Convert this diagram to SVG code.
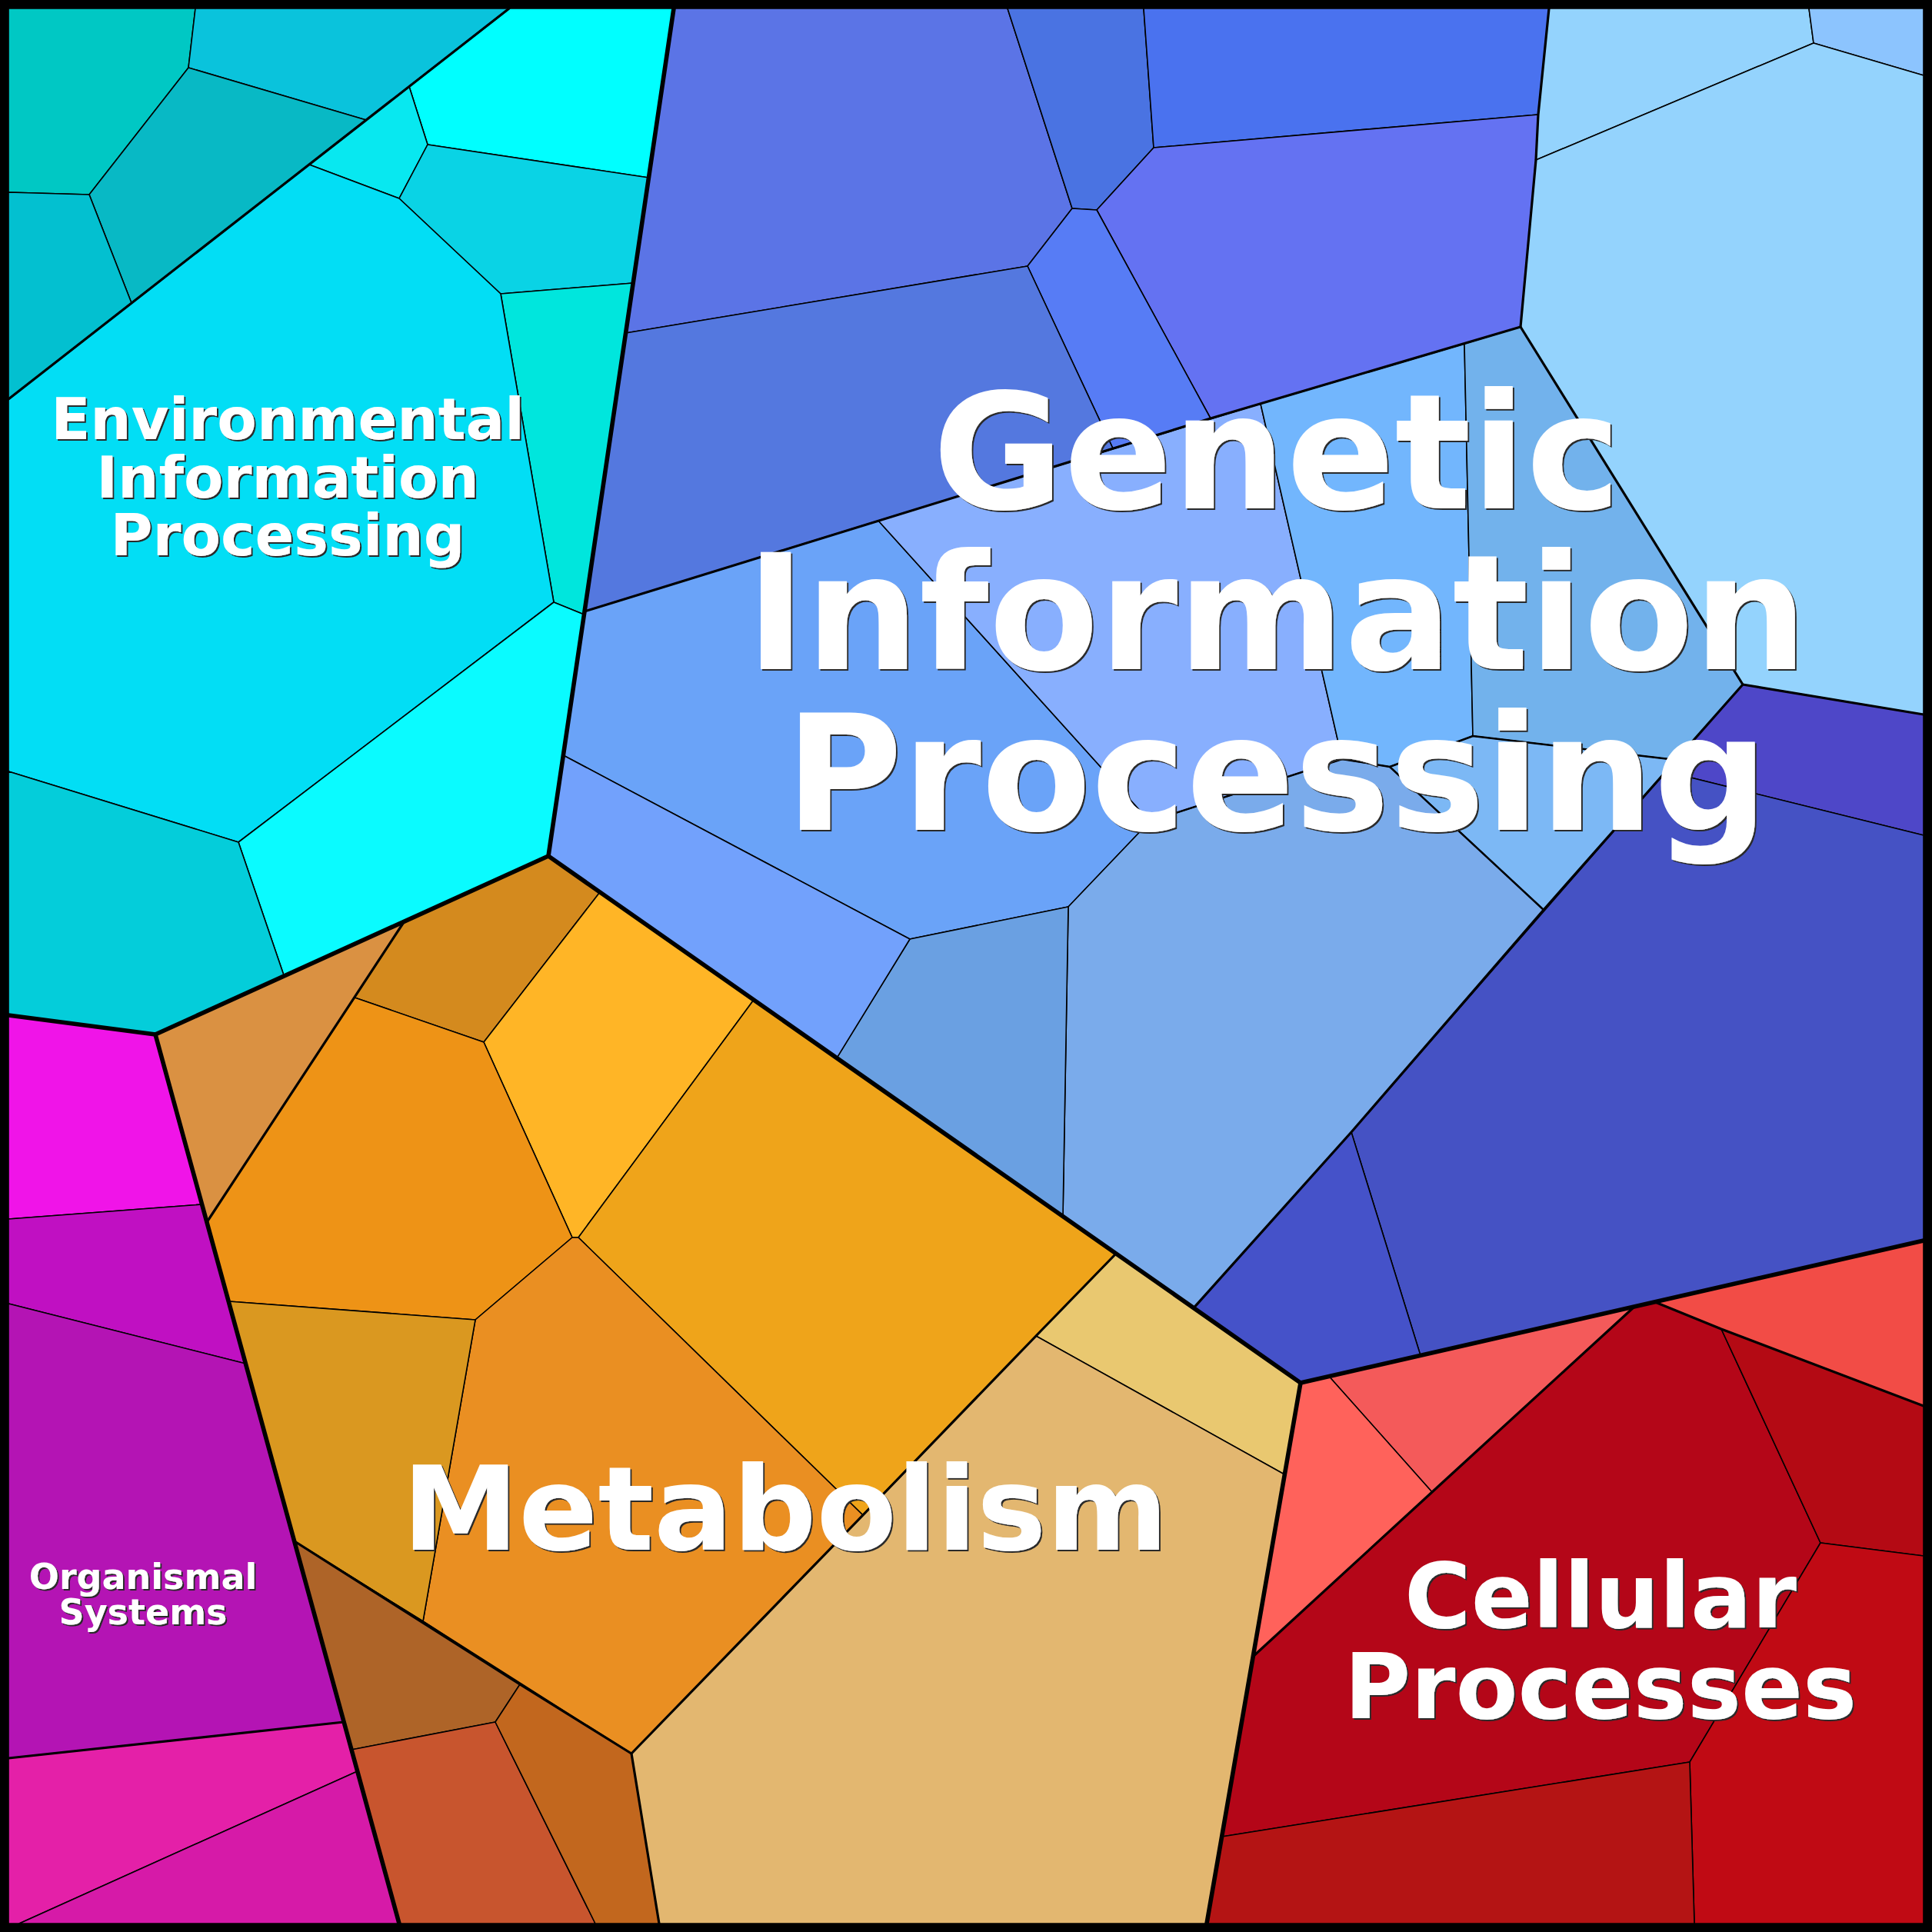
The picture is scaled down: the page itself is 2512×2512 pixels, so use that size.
<svg xmlns="http://www.w3.org/2000/svg" width="2512" height="2512" viewBox="0 0 2512 2512">
<defs>
<filter id="sh" x="-5%" y="-5%" width="110%" height="120%">
<feOffset in="SourceAlpha" dx="2" dy="2" result="o"/>
<feFlood flood-color="#2a2a2a"/>
<feComposite in2="o" operator="in" result="s"/>
<feMerge><feMergeNode in="s"/><feMergeNode in="SourceGraphic"/></feMerge>
</filter>
</defs>
<style>
.c{stroke:#000;stroke-width:1.6;stroke-linejoin:round}
.l3{fill:none;stroke:#000;stroke-width:2.4;stroke-linejoin:round;stroke-linecap:round}
.l2{fill:none;stroke:#000;stroke-width:3.2;stroke-linejoin:round;stroke-linecap:round}
.l1{fill:none;stroke:#000;stroke-width:5.6;stroke-linejoin:round;stroke-linecap:round}
.t{font-family:"DejaVu Sans","Liberation Sans",sans-serif;font-weight:bold;text-anchor:middle;fill:#fff}
</style>
<rect x="0" y="0" width="2512" height="2512" fill="#000"/>
<g id="environmental">
<polygon class="c" fill="#00C8C4" points="11,11 254,11 245,88 116,253 11,250"/>
<polygon class="c" fill="#0AC3DC" points="254,11 662,11 476,156 245,88"/>
<polygon class="c" fill="#08B9C5" points="245,88 476,156 171,394 116,253"/>
<polygon class="c" fill="#03C0D0" points="11,250 116,253 171,394 11,519"/>
<polygon class="c" fill="#00FFFF" points="662,11 876,11 843.5,231 556,188 532,112.4"/>
<polygon class="c" fill="#08E8F0" points="532,112.4 556,188 519,258 402,214"/>
<polygon class="c" fill="#0AD3E5" points="556,188 843.5,231 823.2,368 651,382 519,258"/>
<polygon class="c" fill="#00E6DD" points="651,382 823.2,368 759.4,799 720,783"/>
<polygon class="c" fill="#02DEF5" points="11,519 402,214 519,258 651,382 720,783 310,1095 11,1003"/>
<polygon class="c" fill="#0AFBFF" points="720,783 759.4,799 713,1113 369,1268 310,1095"/>
<polygon class="c" fill="#04CDDA" points="11,1003 310,1095 369,1268 202,1345 11,1320"/>
</g>
<g id="genetic">
<polygon class="c" fill="#5B74E6" points="876,11 1310,11 1394,271 1336,346 813.6,433"/>
<polygon class="c" fill="#4A73E2" points="1310,11 1487,11 1500,192 1426,273 1394,271"/>
<polygon class="c" fill="#4A72EF" points="1487,11 2014,11 2000,149 1500,192"/>
<polygon class="c" fill="#6472F2" points="1500,192 2000,149 1997,208 1977,425 1574,544 1426,273"/>
<polygon class="c" fill="#577CF5" points="1394,271 1426,273 1574,544 1447,583 1336,346"/>
<polygon class="c" fill="#5478DF" points="813.6,433 1336,346 1447,583 760,795"/>
<polygon class="c" fill="#94D3FD" points="2014,11 2352,11 2358,56 1997,208 2000,149"/>
<polygon class="c" fill="#8CC4FE" points="2352,11 2501,11 2501,98 2358,56"/>
<polygon class="c" fill="#94D3FD" points="1997,208 2358,56 2501,98 2501,929 2266,890 1977,425"/>
<polygon class="c" fill="#6AA3F8" points="760,795 1142,677 1495,1068 1389,1179 1183,1221 732.4,982"/>
<polygon class="c" fill="#88AFFE" points="1142,677 1639,525 1745,987 1495,1068"/>
<polygon class="c" fill="#72B6FD" points="1639,525 1904,447 1915,957 1807,997 1745,987"/>
<polygon class="c" fill="#72B2EC" points="1904,447 1977,425 2266,890 2179,988 1915,957"/>
<polygon class="c" fill="#7CB8F5" points="1915,957 2179,988 2007,1183 1807,997"/>
<polygon class="c" fill="#7AABEB" points="1495,1068 1745,987 1807,997 2007,1183 1757,1472 1552,1700.6 1382,1581.6 1389,1179"/>
<polygon class="c" fill="#6AA0E2" points="1183,1221 1389,1179 1382,1581.6 1088,1375.7"/>
<polygon class="c" fill="#72A1FC" points="732.4,982 1183,1221 1088,1375.7 713,1113"/>
<polygon class="c" fill="#4E47C8" points="2266,890 2501,929 2501,1086 2166,1003"/>
<polygon class="c" fill="#4552C4" points="2166,1003 2501,1086 2501,1613 1847,1762.4 1757,1472"/>
<polygon class="c" fill="#4552C9" points="1757,1472 1847,1762.4 1691,1798 1552,1700.6"/>
</g>
<g id="metabolism">
<polygon class="c" fill="#DA9142" points="202,1345 369,1268 525,1199 461,1297 269,1589"/>
<polygon class="c" fill="#D48A1E" points="525,1199 713,1113 780,1160 629,1355 461,1297"/>
<polygon class="c" fill="#FFB526" points="629,1355 780,1160 980,1300 752,1609 744,1609"/>
<polygon class="c" fill="#EE9316" points="461,1297 629,1355 744,1609 618,1716 297,1692 269,1589"/>
<polygon class="c" fill="#EFA41A" points="752,1609 980,1300 1451,1630 1347,1737 1122,1970"/>
<polygon class="c" fill="#EA8F22" points="744,1609 752,1609 1122,1970 821,2280 550,2108 618,1716"/>
<polygon class="c" fill="#DA9820" points="297,1692 618,1716 550,2108 383,2004"/>
<polygon class="c" fill="#AE6428" points="383,2004 550,2108 676,2190 644,2239 457,2275"/>
<polygon class="c" fill="#C8552E" points="457,2275 644,2239 774,2501 519,2501"/>
<polygon class="c" fill="#C2671E" points="676,2190 821,2280 857,2501 774,2501 644,2239"/>
<polygon class="c" fill="#E9C870" points="1451,1630 1691,1798 1670,1917 1347,1737"/>
<polygon class="c" fill="#E3B770" points="1347,1737 1670,1917 1569,2501 857,2501 821,2280"/>
</g>
<g id="organismal">
<polygon class="c" fill="#F014E8" points="11,1320 202,1345 262.6,1566 11,1585"/>
<polygon class="c" fill="#C010C2" points="11,1585 262.6,1566 319.4,1773 11,1695"/>
<polygon class="c" fill="#B414B4" points="11,1695 319.4,1773 447,2239 11,2286"/>
<polygon class="c" fill="#E420A8" points="11,2286 447,2239 464.7,2303 25,2501 11,2501"/>
<polygon class="c" fill="#D61AA8" points="464.7,2303 519,2501 25,2501"/>
</g>
<g id="cellular">
<polygon class="c" fill="#F24C46" points="2152,1693 2501,1613 2501,1828 2238,1728"/>
<polygon class="c" fill="#F45A5A" points="1728,1789.5 2125,1699 1862,1940"/>
<polygon class="c" fill="#FF625B" points="1691,1798 1728,1789.5 1862,1940 1629,2154 1670,1917"/>
<polygon class="c" fill="#B40618" points="1629,2154 1862,1940 2125,1699 2152,1693 2238,1728 2367,2006 2197,2291 1589,2388"/>
<polygon class="c" fill="#B40A14" points="2238,1728 2501,1828 2501,2023 2367,2006"/>
<polygon class="c" fill="#C00A14" points="2367,2006 2501,2023 2501,2501 2203,2501 2197,2291"/>
<polygon class="c" fill="#B41414" points="1589,2388 2197,2291 2203,2501 1569,2501"/>
</g>
<g id="boundaries">
<polyline class="l3" points="1495,1068 1745,987 1807,997 1915,957 2179,988"/>
<polyline class="l3" points="1807,997 2007,1183"/>
<polyline class="l2" points="11,519 662,11"/>
<polyline class="l2" points="760,795 1574,544 1977,425"/>
<polyline class="l2" points="2014,11 2000,149 1997,208 1977,425 2266,890 2501,929"/>
<polyline class="l2" points="2266,890 2007,1183 1757,1472 1552,1700.6"/>
<polyline class="l2" points="525,1199 269,1589"/>
<polyline class="l2" points="383,2004 676,2190 821,2280 1122,1970 1347,1737 1451,1630"/>
<polyline class="l2" points="821,2280 857,2501"/>
<polyline class="l2" points="11,2286 447,2239"/>
<polyline class="l2" points="1629,2154 1862,1940 2125,1699 2152,1693 2238,1728 2501,1828"/>
<polyline class="l1" points="876,11 713,1113 202,1345 11,1320"/>
<polyline class="l1" points="202,1345 519,2501"/>
<polyline class="l1" points="713,1113 1691,1798 2501,1613"/>
<polyline class="l1" points="1691,1798 1569,2501"/>
<rect x="5.5" y="5.5" width="2501" height="2501" fill="none" stroke="#000" stroke-width="11"/>
</g>
<g id="labels" filter="url(#sh)">
<text class="t" font-size="75" x="374" y="571">Environmental</text>
<text class="t" font-size="75" x="374" y="647">Information</text>
<text class="t" font-size="75" x="374" y="722">Processing</text>
<text class="t" font-size="208" x="1660" y="661">Genetic</text>
<text class="t" font-size="208" x="1660" y="870">Information</text>
<text class="t" font-size="208" x="1660" y="1079">Processing</text>
<text class="t" font-size="152" x="1021" y="2015">Metabolism</text>
<text class="t" font-size="118" x="2081" y="2116">Cellular</text>
<text class="t" font-size="118" x="2081" y="2234">Processes</text>
<text class="t" font-size="46" x="186" y="2066">Organismal</text>
<text class="t" font-size="46" x="186" y="2112">Systems</text>
</g>
</svg>
